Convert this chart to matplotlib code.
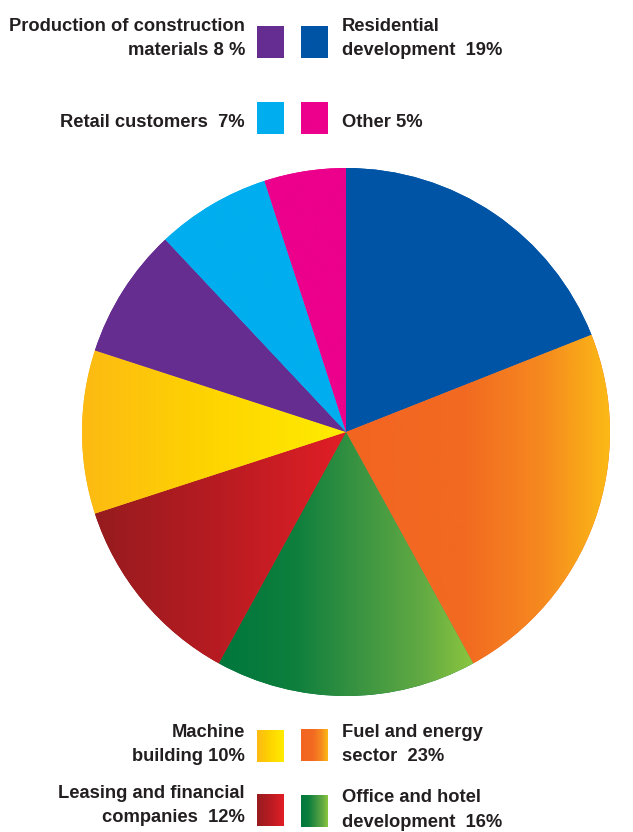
import numpy as np
import matplotlib
matplotlib.use("Agg")
import matplotlib.pyplot as plt
from matplotlib.colors import LinearSegmentedColormap

# Client structure by sector, clockwise from 12 o'clock
sectors = ["Residential development", "Fuel and energy sector", "Office and hotel development",
           "Leasing and financial companies", "Machine building",
           "Production of construction materials", "Retail customers", "Other"]
shares = [19, 23, 16, 12, 10, 8, 7, 5]

# legend text, one tuple of lines per sector
legend_lines = [
    ("Residential", "development  19%"),
    ("Fuel and energy", "sector  23%"),
    ("Office and hotel", "development  16%"),
    ("Leasing and financial", "companies  12%"),
    ("Machine", "building 10%"),
    ("Production of construction", "materials 8 %"),
    ("Retail customers  7%",),
    ("Other 5%",),
]

# colour stops (left -> right); a single stop means a flat fill
fills = [
    [(0, "#0054a6"), (1, "#0054a6")],
    [(0, "#f26522"), (0.45, "#f26a21"), (0.75, "#f68a1f"), (1, "#fbba16")],
    [(0, "#00773c"), (0.3, "#0e7f3d"), (0.55, "#3a9441"), (0.8, "#62aa43"), (1, "#8cc63f")],
    [(0, "#961b1e"), (0.5, "#b81c22"), (1, "#e21e26")],
    [(0, "#fdba13"), (0.5, "#fed500"), (1, "#ffec00")],
    [(0, "#662d91"), (1, "#662d91")],
    [(0, "#00aeef"), (1, "#00aeef")],
    [(0, "#ec008c"), (1, "#ec008c")],
]

W, H = 633, 832
fig = plt.figure(figsize=(W / 100, H / 100), dpi=100)
fig.patch.set_facecolor("white")

# overlay in pixel coordinates for the legend
lay = fig.add_axes([0, 0, 1, 1])
lay.set_xlim(0, W)
lay.set_ylim(H, 0)
lay.axis("off")

cmaps = [LinearSegmentedColormap.from_list(f"c{i}", stops) for i, stops in enumerate(fills)]
grad = np.linspace(0, 1, 256).reshape(1, -1)

# pie
cx, cy, r = 346, 432, 264
ax = fig.add_axes([(cx - r) / W, (H - cy - r) / H, 2 * r / W, 2 * r / H])
wedges, _ = ax.pie(shares, startangle=90, counterclock=False, radius=1,
                   colors=[f[0][1] for f in fills], wedgeprops=dict(linewidth=0))
for w, cm in zip(wedges, cmaps):
    th = np.radians(np.linspace(w.theta1, w.theta2, 400))
    xs = np.concatenate([[0], np.cos(th)])
    ax.imshow(grad, cmap=cm, extent=(xs.min(), xs.max(), -1, 1), aspect="auto",
              interpolation="bilinear", clip_path=w, zorder=2)
ax.set_xlim(-1, 1)
ax.set_ylim(-1, 1)
ax.axis("off")

# legend layout: (box x0, box y0, box y1, text baselines, side)
txt = dict(family="Liberation Sans", fontweight="bold", fontsize=13.2, color="#231f20")
slots = [
    (301, 26, 58, (31, 55), "right"),
    (301, 729, 761, (737, 761), "right"),
    (301, 795, 827, (802, 827), "right"),
    (257, 794, 826, (798, 822), "left"),
    (257, 730, 762, (737, 761), "left"),
    (257, 26, 58, (31, 55), "left"),
    (257, 102, 134, (127,), "left"),
    (301, 102, 134, (127,), "right"),
]
bw = 26.5
for (x0, y0, y1, bases, side), lines, cm in zip(slots, legend_lines, cmaps):
    lay.imshow(grad, cmap=cm, extent=(x0, x0 + bw, y1, y0), aspect="auto",
               interpolation="bilinear", zorder=2)
    for base, line in zip(bases, lines):
        if side == "left":
            lay.text(245, base, line, ha="right", va="baseline", **txt)
        else:
            lay.text(342, base, line, ha="left", va="baseline", **txt)
lay.set_xlim(0, W)
lay.set_ylim(H, 0)

fig.savefig("out.png", dpi=100, facecolor="white")
